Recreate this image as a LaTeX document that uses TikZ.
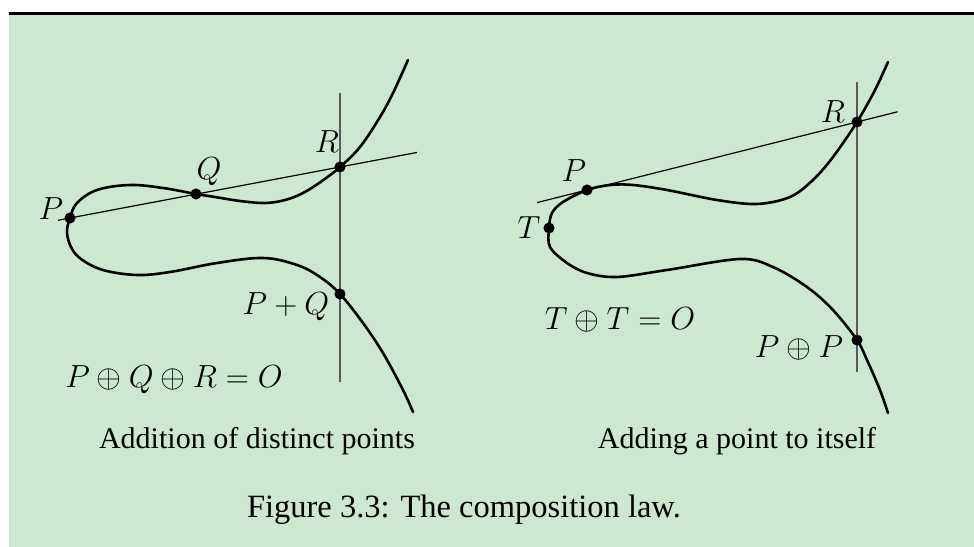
\documentclass[tikz,border=0pt]{standalone}
\usepackage{fontspec}
\setmainfont{Liberation Serif}
\usetikzlibrary{calc}
\definecolor{paper}{RGB}{205,232,209}

\begin{document}
\begin{tikzpicture}[x=0.54pt, y=-0.54pt,
    curve/.style={line width=1.4pt, line join=round, line cap=round},
    chord/.style={line width=0.65pt},
    vline/.style={line width=1pt, black!65},
    ptdot/.style={circle, fill, inner sep=0pt, minimum size=6pt},
    lbl/.style={anchor=base, inner sep=0pt, font=\fontsize{17.28}{20}\selectfont},
    subcap/.style={anchor=base, inner sep=0pt, font=\fontsize{16.2}{19}\selectfont},
    figcap/.style={anchor=base, inner sep=0pt, font=\fontsize{17.55}{20}\selectfont}
  ]
  \useasboundingbox (0,0) rectangle (974,547);
  \fill[white] (0,0) rectangle (974,547);
  \fill[paper] (9,15) rectangle (974,547);
  \fill (9,12) rectangle (974,15);

  % distinct points
  \coordinate (p1) at (70,218);
  \coordinate (q1) at (196,194);
  \coordinate (r1) at (340,167);
  \coordinate (pq1) at (340,294);
  \draw[curve] plot[smooth, tension=0.6] coordinates {
    (408,60) (393,93) (380,117) (360,147) (r1) (322,181) (303,193) (285,200)
    (265,203) (240,201) (215,197) (q1) (163,188) (130,185) (97,190) (77,203)
    (p1) (67,232) (71,247) (81,259) (103,270) (137,275) (170,272) (217,263)
    (263,258) (297,265) (320,277) (pq1) (363,323) (383,353) (403,390) (413,412)};
  \draw[chord] ($(p1)!-0.044!(r1)$) -- ($(p1)!1.285!(r1)$);
  \draw[vline] ($(r1)+(0,-74)$) -- ($(pq1)+(0,88)$);
  \node[ptdot] (dp1) at (p1) {};
  \node[ptdot] (dq1) at (q1) {};
  \node[ptdot] (dr1) at (r1) {};
  \node[ptdot] (dpq1) at (pq1) {};
  \node[lbl] (lp1) at (51,220) {$P$};
  \node[lbl] (lq1) at (209,180) {$Q$};
  \node[lbl] (lr1) at (327,153) {$R$};
  \node[lbl] (lpq1) at (286,315) {$P+Q$};
  \node[lbl] (law1) at (174,388) {$P\oplus Q\oplus R=O$};
  \node[subcap] (sub1) at (257,449) {Addition of distinct points};

  % doubling
  \coordinate (t2) at (549,228);
  \coordinate (p2) at (587,190);
  \coordinate (r2) at (857,122);
  \coordinate (pp2) at (857,340);
  \draw[curve] plot[smooth, tension=0.55] coordinates {
    (888,62) (875,90) (r2) (833,157) (813,180) (790,197) (757,204) (717,200)
    (667,190) (633,185) (610,185) (p2) (563,202) (552,213) (t2) (550,247)
    (567,263) (587,273) (617,277) (667,270) (740,259) (773,267) (807,287)
    (833,310) (pp2) (867,360) (880,390) (888,413)};
  \draw[chord] ($(p2)!-0.185!(r2)$) -- ($(p2)!1.15!(r2)$);
  \draw[vline] ($(r2)+(0,-40)$) -- ($(pp2)+(0,32)$);
  \node[ptdot] (dt2) at (t2) {};
  \node[ptdot] (dp2) at (p2) {};
  \node[ptdot] (dr2) at (r2) {};
  \node[ptdot] (dpp2) at (pp2) {};
  \node[lbl] (lr2) at (833,123) {$R$};
  \node[lbl] (lp2) at (574,182) {$P$};
  \node[lbl] (lt2) at (529,239) {$T$};
  \node[lbl] (law2) at (620,330) {$T\oplus T=O$};
  \node[lbl] (lpp2) at (799,358) {$P\oplus P$};
  \node[subcap] (sub2) at (737,449) {Adding a point to itself};

  \node[figcap] (caption) at (464,518) {Figure 3.3: The composition law.};
\end{tikzpicture}
\end{document}
